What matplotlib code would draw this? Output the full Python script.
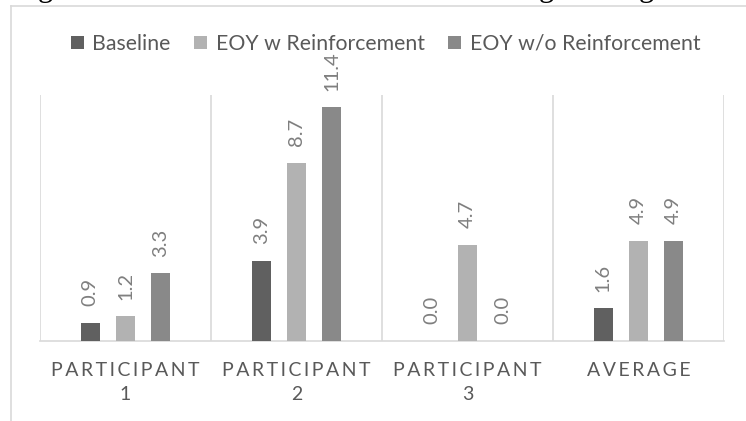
import numpy as np
import matplotlib
matplotlib.use("Agg")
from matplotlib import pyplot as plt
from matplotlib.lines import Line2D

# data
categories = ["PARTICIPANT 1", "PARTICIPANT 2", "PARTICIPANT 3", "AVERAGE"]
baseline = [0.9, 3.9, 0.0, 1.6]
eoy_with = [1.2, 8.7, 4.7, 4.9]
eoy_without = [3.3, 11.4, 0.0, 4.9]
series_names = ["Baseline", "EOY w Reinforcement", "EOY w/o Reinforcement"]
series_colors = ["#606060", "#b2b2b2", "#898989"]

plt.rcParams["font.family"] = ["Lato", "DejaVu Sans"]

fig = plt.figure(figsize=(7.46, 4.21), dpi=100)
ax = fig.add_axes([40 / 746, 1 - 341 / 421, (724 - 40) / 746, (341 - 95) / 421])


def spaced(label):
    # Excel style letter spacing on the category axis
    words = label.split(" ")
    first = "\u2009".join(words[0])
    return first + ("\n" + words[1] if len(words) > 1 else "")


x = np.arange(len(categories))
offset = 0.206
width = 0.112
for i, (vals, name, col) in enumerate(zip([baseline, eoy_with, eoy_without], series_names, series_colors)):
    bars = ax.bar(x + (i - 1) * offset, vals, width, color=col, label=name, zorder=3)
    ax.bar_label(bars, fmt="%.1f", rotation=90, padding=12, color="#7f7f7f", fontsize=14.5)

ax.set_xlim(-0.5, len(categories) - 0.5)
ax.set_ylim(0, 12)
ax.set_yticks([])
ax.set_xticks(x)
ax.set_xticklabels([spaced(c) for c in categories], fontsize=14, color="#595959", linespacing=1.5)
ax.tick_params(axis="x", length=0, pad=15)
ax.set_xticks(np.arange(-0.5, len(categories), 1), minor=True)
ax.tick_params(axis="x", which="minor", length=0)
ax.grid(axis="x", which="minor", color="#d9d9d9", linewidth=1.2, zorder=0)
for s in ["top", "left", "right"]:
    ax.spines[s].set_visible(False)
ax.spines["bottom"].set_color("#d9d9d9")
ax.spines["bottom"].set_linewidth(1.2)

fig.legend(loc="center", bbox_to_anchor=(385.5 / 746, 1 - 44 / 421), ncol=3, frameon=False,
           fontsize=15.3, labelcolor="#595959", handlelength=0.62, handleheight=0.62,
           handletextpad=0.4, columnspacing=1.1, borderaxespad=0)

# chart frame, cut by the page crop
fig.add_artist(Line2D([11 / 746, 1], [1 - 5.5 / 421] * 2, color="#d9d9d9", linewidth=1.2))
fig.add_artist(Line2D([11 / 746] * 2, [0, 1 - 5.5 / 421], color="#d9d9d9", linewidth=1.2))

# descenders of the document line above the chart
for px in [45, 546, 646]:
    fig.text(px / 746, 1 + 4 / 421, "g", family="Liberation Serif", fontsize=22,
             ha="center", va="baseline", color="black")

fig.savefig("out.png", dpi=100)
